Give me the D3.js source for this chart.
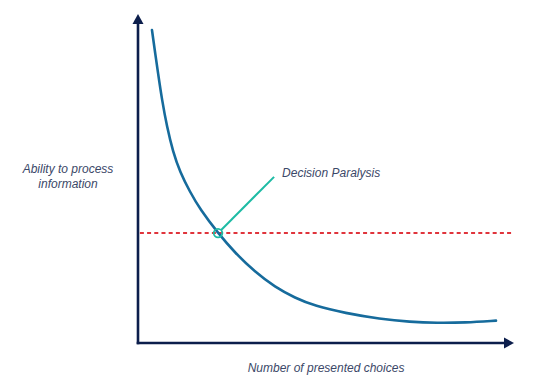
<!DOCTYPE html>
<html>
<head>
<meta charset="utf-8">
<script src="https://cdn.jsdelivr.net/npm/d3@7"></script>
<style>
  html, body { margin: 0; padding: 0; background: #ffffff; }
  svg { display: block; }
  text { font-family: "Liberation Sans", Arial, Helvetica, sans-serif; font-style: italic; }
</style>
</head>
<body>
<svg id="chart" width="535" height="387"></svg>
<script>
// ---- data (arbitrary 0..100 units) ----
const curveX = [3.72, 4.52, 5.32, 6.38, 7.71, 9.31, 11.17, 13.83, 16.49, 21.28, 25.80, 31.12, 36.44, 41.76, 47.07, 55.05, 64.36, 72.34, 79.52, 86.97, 95.21];
const curveY = [95.1, 88.5, 82.1, 73.9, 65.7, 58.1, 52.0, 45.9, 40.7, 33.4, 27.4, 21.6, 17.0, 13.7, 11.25, 9.1, 7.3, 6.4, 6.1, 6.2, 6.8];
const threshold = [33.4];           // ability limit (red dashed line)
const thresholdRange = [0.5, 100];  // x extent of the dashed line
const paralysisPoint = [21.28, 33.4];
const paralysisLabelAt = [36.2, 50.5];
const labels = {
  annotation: "Decision Paralysis",
  xAxis: "Number of presented choices",
  yAxis: ["Ability to process", "information"]
};

// ---- layout ----
const svg = d3.select("#chart");
const x = d3.scaleLinear().domain([0, 100]).range([138, 514]);
const y = d3.scaleLinear().domain([0, 100]).range([343, 14]);

const navy = "#0c1e4c";
const textColor = "#3b4868";

// axes (no ticks; just the domain lines with arrow heads)
svg.append("g")
  .attr("transform", `translate(0,${y(0)})`)
  .call(d3.axisBottom(x).tickValues([]).tickSizeOuter(0))
  .call(g => g.select(".domain").attr("stroke", navy).attr("stroke-width", 2.6)
    .attr("d", `M${x(0) - 1.3},0H${x(100) - 8}`));
svg.append("g")
  .attr("transform", `translate(${x(0)},0)`)
  .call(d3.axisLeft(y).tickValues([]).tickSizeOuter(0))
  .call(g => g.select(".domain").attr("stroke", navy).attr("stroke-width", 2.6)
    .attr("d", `M0,${y(0) + 1.3}V${y(100) + 8}`));

// arrow heads
svg.append("path")
  .attr("d", `M${x(100)},${y(0)} L${x(100) - 10},${y(0) - 5.5} L${x(100) - 10},${y(0) + 5.5} Z`)
  .attr("fill", navy);
svg.append("path")
  .attr("d", `M${x(0)},${y(100)} L${x(0) - 5.5},${y(100) + 10} L${x(0) + 5.5},${y(100) + 10} Z`)
  .attr("fill", navy);

// threshold dashed line
svg.append("line")
  .attr("x1", x(thresholdRange[0])).attr("x2", x(thresholdRange[1]))
  .attr("y1", y(threshold[0])).attr("y2", y(threshold[0]))
  .attr("stroke", "#e0343c").attr("stroke-width", 2)
  .attr("stroke-dasharray", "4,3.2");

// curve
const pts = curveX.map((d, i) => [d, curveY[i]]);
svg.append("path")
  .datum(pts)
  .attr("fill", "none")
  .attr("stroke", "#166b9c")
  .attr("stroke-width", 2.6)
  .attr("stroke-linecap", "round")
  .attr("d", d3.line().x(d => x(d[0])).y(d => y(d[1])).curve(d3.curveBasis));

// annotation
const teal = "#1dbba4";
const cx = x(paralysisPoint[0]), cy = y(paralysisPoint[1]);
const ang = Math.atan2(y(paralysisLabelAt[1]) - cy, x(paralysisLabelAt[0]) - cx);
svg.append("line")
  .attr("x1", cx + 4.5 * Math.cos(ang)).attr("y1", cy + 4.5 * Math.sin(ang))
  .attr("x2", x(paralysisLabelAt[0])).attr("y2", y(paralysisLabelAt[1]))
  .attr("stroke", teal).attr("stroke-width", 2);
svg.append("circle")
  .attr("cx", cx).attr("cy", cy).attr("r", 4.3)
  .attr("fill", "none").attr("stroke", teal).attr("stroke-width", 1.8);
svg.append("text")
  .attr("x", x(paralysisLabelAt[0]) + 8).attr("y", y(paralysisLabelAt[1]))
  .attr("font-size", 12).attr("fill", textColor)
  .text(labels.annotation);

// axis titles
svg.append("text")
  .attr("x", 326).attr("y", 372)
  .attr("text-anchor", "middle").attr("font-size", 12).attr("fill", textColor)
  .text(labels.xAxis);
const yt = svg.append("text")
  .attr("text-anchor", "middle").attr("font-size", 12).attr("fill", textColor);
labels.yAxis.forEach((t, i) => {
  yt.append("tspan").attr("x", 68).attr("y", 173 + i * 15).text(t);
});
</script>
</body>
</html>
